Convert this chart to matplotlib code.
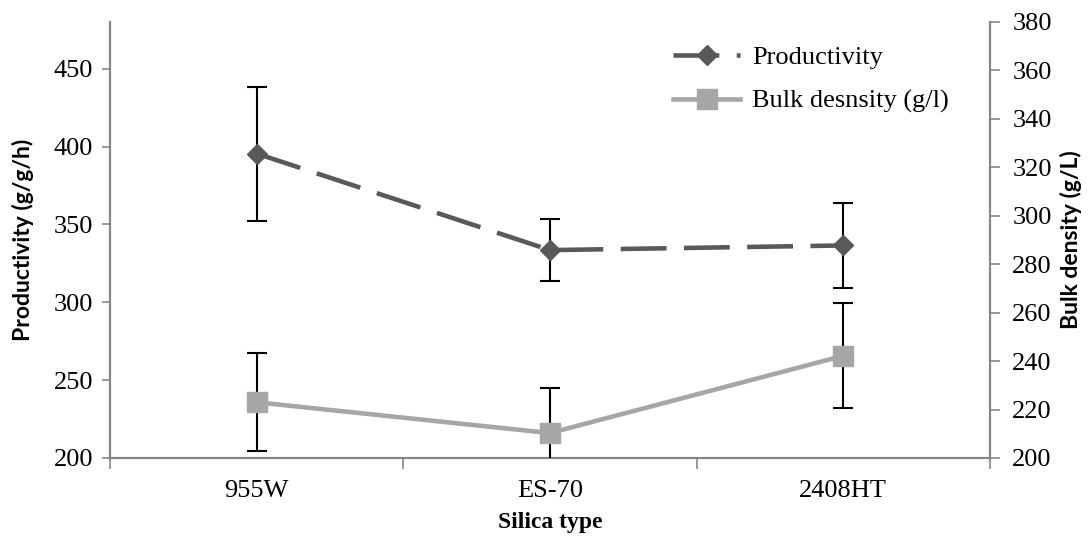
import matplotlib
matplotlib.use("Agg")
import matplotlib.pyplot as plt
from matplotlib.ticker import FixedLocator, NullFormatter, FixedFormatter

plt.rcParams["font.family"] = ["Liberation Serif", "DejaVu Serif"]

# Data
silica_types = ["955W", "ES-70", "2408HT"]
productivity = [395.5, 333.5, 336.5]
productivity_err = [43, 20, 27.5]
bulk_density = [223, 210.3, 242.2]
bulk_density_err = [20.2, 18.6, 21.6]

DARK = "#595959"
LIGHT = "#a6a6a6"
SPINE = "#868686"

fig = plt.figure(figsize=(10.92, 5.45), dpi=100)
ax = fig.add_axes([110 / 1092, 1 - 458 / 545, 880 / 1092, 436 / 545])
ax2 = ax.twinx()

x = list(range(len(silica_types)))

# Productivity on the left axis
ax.errorbar(x, productivity, yerr=productivity_err, fmt="none", ecolor="black",
            elinewidth=1.5, capsize=7, capthick=1.5, zorder=3)
prod_line, = ax.plot(x, productivity, color=DARK, lw=3.3, marker="D", ms=10.5,
                     label="Productivity", zorder=4)
prod_line.set_dashes([10, 3.8])

# Bulk density on the right axis
ax2.errorbar(x, bulk_density, yerr=bulk_density_err, fmt="none", ecolor="black",
             elinewidth=1.5, capsize=7, capthick=1.5, zorder=3)
bulk_line, = ax2.plot(x, bulk_density, color=LIGHT, lw=3.3, marker="s", ms=14,
                      label="Bulk desnsity (g/l)", zorder=4)

ax.set_xlim(-0.5, 2.5)
ax.set_ylim(200, 480)
ax2.set_ylim(200, 380)

ax.set_yticks([200, 250, 300, 350, 400, 450])
ax2.set_yticks(list(range(200, 381, 20)))

# category boundaries carry the tick marks, names sit in the middle
ax.xaxis.set_major_locator(FixedLocator([-0.5, 0.5, 1.5, 2.5]))
ax.xaxis.set_major_formatter(NullFormatter())
ax.xaxis.set_minor_locator(FixedLocator(x))
ax.xaxis.set_minor_formatter(FixedFormatter(silica_types))
ax.tick_params(axis="x", which="major", length=8, width=1.2, color=SPINE, direction="out")
ax.tick_params(axis="x", which="minor", length=0, pad=16, labelsize=19)
ax.tick_params(axis="y", length=6, width=1.2, color=SPINE, labelsize=19, pad=6)
ax2.tick_params(axis="y", length=7, width=1.2, color=SPINE, labelsize=19, pad=9)

for a in (ax, ax2):
    a.spines["top"].set_visible(False)
    for side in ("left", "right", "bottom"):
        a.spines[side].set_color(SPINE)
        a.spines[side].set_linewidth(1.5)

ax.set_xlabel("Silica type", fontsize=17, fontweight="bold", labelpad=7)
ax.set_ylabel("Productivity (g/g/h)", fontsize=16.5, fontweight="bold",
              family=["Lato", "DejaVu Sans"], labelpad=14)
ax2.set_ylabel("Bulk density (g/L)", fontsize=16.5, fontweight="bold",
               family=["Lato", "DejaVu Sans"], labelpad=6)

ax2.legend(handles=[prod_line, bulk_line], loc="upper left",
           bbox_to_anchor=(0.64, 0.946), frameon=False, fontsize=19,
           handlelength=2.55, handletextpad=0.45, labelspacing=0.77,
           borderpad=0, borderaxespad=0)

fig.savefig("out.png", dpi=100)
